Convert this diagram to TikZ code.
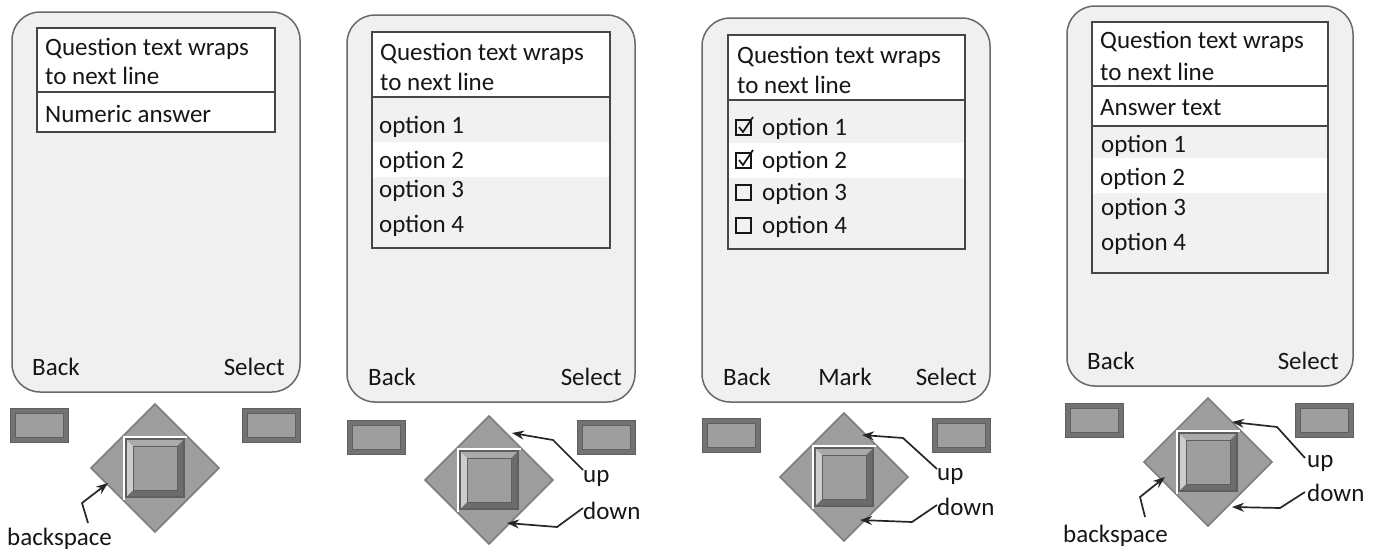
\documentclass[tikz,border=0pt]{standalone}
\usepackage{fontspec}
\setmainfont{Carlito}
\usetikzlibrary{arrows.meta,calc}
\definecolor{phonefill}{RGB}{240,240,240}
\definecolor{phoneline}{RGB}{105,105,105}
\definecolor{boxline}{RGB}{70,70,70}
\definecolor{optfill}{RGB}{241,241,241}
\definecolor{textcol}{RGB}{22,22,22}
\definecolor{padfill}{RGB}{158,158,158}
\definecolor{padline}{RGB}{125,125,125}
\definecolor{bevdark}{RGB}{108,108,108}
\definecolor{bevtop}{RGB}{170,170,170}
\definecolor{bevleft}{RGB}{205,205,205}
\definecolor{keydark}{RGB}{115,115,115}
\definecolor{keyline}{RGB}{95,95,95}
\newcommand{\mydpad}[2]{%
\begin{scope}[shift={(#1,#2)}]
 \filldraw[fill=padfill, draw=padline, line width=1.5] (0,-64) -- (64,0) -- (0,64) -- (-64,0) -- cycle;
 \draw[white, line width=2.5] (-32,-31) -- (32,-31);
 \draw[white, line width=2.5] (-31,-31) -- (-31,32);
 \fill[bevdark] (-29,-29) rectangle (29,29);
 \fill[bevtop] (-29,-29) -- (29,-29) -- (22,-22) -- (-22,-22) -- cycle;
 \fill[bevleft] (-29,-29) -- (-22,-22) -- (-22,22) -- (-29,29) -- cycle;
 \filldraw[fill=padfill, draw=keyline, line width=1] (-22,-22) rectangle (22,22);
 \draw[keyline, line width=1.2] (-29,-29) rectangle (29,29);
\end{scope}}
\newcommand{\softkey}[2]{%
 \filldraw[fill=keydark, draw=keyline, line width=1] (#1,#2) rectangle ++(58,34);
 \filldraw[fill=padfill, draw=keyline, line width=0.8] ({#1+5},{#2+5}) rectangle ++(48,24);}
\newcommand{\chkbox}[2]{%
 \draw[textcol, line width=1.7] (#1,{#2-15}) rectangle ++(15,15);}
\newcommand{\chkmark}[2]{%
 \draw[textcol, line width=1.7] ({#1+3},{#2-8}) -- ({#1+7},{#2-3}) -- ({#1+17},{#2-18});}
\begin{document}
\begin{tikzpicture}[x=1pt,y=-1pt,
  phone/.style={fill=phonefill, draw=phoneline, line width=1.5, rounded corners=28},
  qbox/.style={fill=white, draw=boxline, line width=1.5},
  obox/.style={fill=optfill, draw=boxline, line width=1.5},
  txt/.style={anchor=base west, inner sep=0, text=textcol, font=\fontsize{25}{31}\selectfont},
  rtxt/.style={txt, anchor=base east},
  ctxt/.style={txt, anchor=base},
  conn/.style={-{Stealth[length=12pt,width=9pt]}, line width=1.7, draw=black!85}]
\useasboundingbox (0,0) rectangle (1378,554);

% ---------------- Phone 1 ----------------
\draw[phone] (12,12) rectangle (300,392);
\draw[qbox] (37,28) rectangle (275,92);
\draw[qbox] (37,92) rectangle (275,132);
\node[txt] (p1q1) at (45,55) {Question text wraps};
\node[txt] (p1q2) at (45,84) {to next line};
\node[txt] (p1ans) at (45,122) {Numeric answer};
\node[txt] (p1back) at (32,375) {Back};
\node[rtxt] (p1sel) at (285,375) {Select};
\softkey{10}{408}
\softkey{242}{408}
\mydpad{155}{468}
\node[txt] (p1bs) at (7,545) {backspace};
\coordinate (p1bsv) at (82,503);
\coordinate (p1bst) at (108,483);
\draw[conn] ($(p1bs.base west)+(81,-22)$) -- (p1bsv) -- (p1bst);

% ---------------- Phone 2 ----------------
\draw[phone] (347,15) rectangle (635,402);
\draw[qbox] (372,32) rectangle (610,97);
\draw[obox] (372,97) rectangle (610,248);
\fill[white] (373,142) rectangle (609,177);
\node[txt] (p2q1) at (380,60) {Question text wraps};
\node[txt] (p2q2) at (380,90) {to next line};
\node[txt] (p2o1) at (379,133) {option 1};
\node[txt] (p2o2) at (379,168) {option 2};
\node[txt] (p2o3) at (379,197) {option 3};
\node[txt] (p2o4) at (379,232) {option 4};
\node[txt] (p2back) at (368,385) {Back};
\node[rtxt] (p2sel) at (622,385) {Select};
\softkey{347}{420}
\softkey{577}{420}
\mydpad{489}{480}
\node[txt] (p2up) at (583,482) {up};
\node[txt] (p2down) at (583,519) {down};
\coordinate (p2upv) at (553,440);
\coordinate (p2upt) at (512,433);
\coordinate (p2dnv) at (557,527);
\coordinate (p2dnt) at (507,523);
\draw[conn] ($(p2up.base west)+(0,-12)$) -- (p2upv) -- (p2upt);
\draw[conn] ($(p2down.base west)+(0,-11)$) -- (p2dnv) -- (p2dnt);

% ---------------- Phone 3 ----------------
\draw[phone] (702,18) rectangle (990,402);
\draw[qbox] (728,35) rectangle (965,100);
\draw[obox] (728,100) rectangle (965,249);
\fill[white] (729,143) rectangle (964,178);
\node[txt] (p3q1) at (737,63) {Question text wraps};
\node[txt] (p3q2) at (737,93) {to next line};
\chkbox{736}{135}\chkmark{736}{135}
\chkbox{736}{168}\chkmark{736}{168}
\chkbox{736}{200}
\chkbox{736}{233}
\node[txt] (p3o1) at (762,135) {option 1};
\node[txt] (p3o2) at (762,168) {option 2};
\node[txt] (p3o3) at (762,200) {option 3};
\node[txt] (p3o4) at (762,233) {option 4};
\node[txt] (p3back) at (723,385) {Back};
\node[ctxt] (p3mark) at (845,385) {Mark};
\node[rtxt] (p3sel) at (977,385) {Select};
\softkey{702}{418}
\softkey{932}{418}
\mydpad{844}{477}
\node[txt] (p3up) at (937,480) {up};
\node[txt] (p3down) at (937,515) {down};
\coordinate (p3upv) at (903,438);
\coordinate (p3upt) at (862,435);
\coordinate (p3dnv) at (912,522);
\coordinate (p3dnt) at (860,520);
\draw[conn] ($(p3up.base west)+(0,-11)$) -- (p3upv) -- (p3upt);
\draw[conn] ($(p3down.base west)+(0,-10)$) -- (p3dnv) -- (p3dnt);

% ---------------- Phone 4 ----------------
\draw[phone] (1067,6) rectangle (1353,386);
\draw[qbox] (1092,22) rectangle (1328,86);
\draw[qbox] (1092,86) rectangle (1328,126);
\draw[obox] (1092,126) rectangle (1328,273);
\fill[white] (1093,158) rectangle (1327,193);
\node[txt] (p4q1) at (1100,48) {Question text wraps};
\node[txt] (p4q2) at (1100,80) {to next line};
\node[txt] (p4ans) at (1100,115) {Answer text};
\node[txt] (p4o1) at (1101,152) {option 1};
\node[txt] (p4o2) at (1100,185) {option 2};
\node[txt] (p4o3) at (1101,215) {option 3};
\node[txt] (p4o4) at (1101,250) {option 4};
\node[txt] (p4back) at (1087,369) {Back};
\node[rtxt] (p4sel) at (1339,369) {Select};
\softkey{1065}{403}
\softkey{1295}{403}
\mydpad{1208}{462}
\node[txt] (p4up) at (1307,467) {up};
\node[txt] (p4down) at (1307,501) {down};
\node[txt] (p4bs) at (1063,542) {backspace};
\coordinate (p4upv) at (1277,427);
\coordinate (p4upt) at (1232,422);
\coordinate (p4dnv) at (1280,508);
\coordinate (p4dnt) at (1232,507);
\coordinate (p4bsv) at (1140,497);
\coordinate (p4bst) at (1165,477);
\draw[conn] ($(p4up.base west)+(-2,-9)$) -- (p4upv) -- (p4upt);
\draw[conn] ($(p4down.base west)+(-2,-9)$) -- (p4dnv) -- (p4dnt);
\draw[conn] ($(p4bs.base west)+(82,-25)$) -- (p4bsv) -- (p4bst);
\end{tikzpicture}
\end{document}
